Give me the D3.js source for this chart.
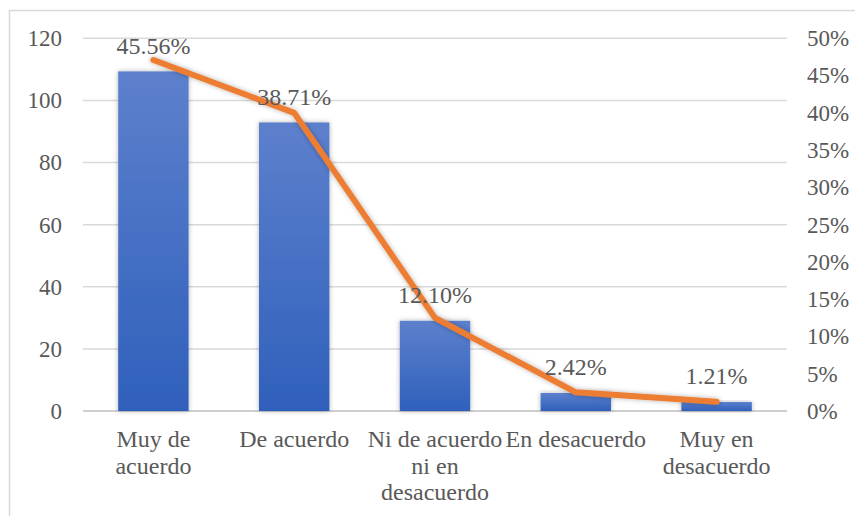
<!DOCTYPE html>
<html>
<head>
<meta charset="utf-8">
<script src="https://cdn.jsdelivr.net/npm/d3@7"></script>
<style>
  body { margin: 0; background: #fff; }
  svg text { font-family: "Liberation Serif", "DejaVu Serif", serif !important; fill: #595959; }
</style>
</head>
<body>
<div id="canvas"></div>
<script>
// data
let categories = [["Muy de", "acuerdo"], ["De acuerdo"], ["Ni de acuerdo", "ni en", "desacuerdo"], ["En desacuerdo"], ["Muy en", "desacuerdo"]]
let percents = [45.56, 38.71, 12.10, 2.42, 1.21]   // bars, right axis
let counts = [113, 96, 30, 6, 3]                   // line, left axis
let leftTicks = [0, 20, 40, 60, 80, 100, 120]
let rightTicks = [0, 5, 10, 15, 20, 25, 30, 35, 40, 45, 50]

let width = 855
let height = 516
let plot = { left: 83, right: 787, top: 38.3, bottom: 411 }
let serif = "'Liberation Serif', 'DejaVu Serif', serif"

let svg = d3.select("#canvas").append("svg")
    .attr("width", width)
    .attr("height", height)

// frame (only left and top edges visible)
svg.append("path")
    .attr("d", "M9.5," + height + "V10.5H" + width)
    .attr("fill", "none")
    .attr("stroke", "#d9d9d9")
    .attr("stroke-width", 1.5)

let defs = svg.append("defs")
let grad = defs.append("linearGradient")
    .attr("id", "barGrad")
    .attr("x1", 0).attr("y1", 0).attr("x2", 0).attr("y2", 1)
grad.append("stop").attr("offset", "0%").attr("stop-color", "#5d80cd")
grad.append("stop").attr("offset", "100%").attr("stop-color", "#2f60bb")

let shadow = defs.append("filter")
    .attr("id", "shadow")
    .attr("x", "-20%").attr("y", "-20%").attr("width", "140%").attr("height", "140%")
shadow.append("feDropShadow")
    .attr("dx", 0).attr("dy", 0)
    .attr("stdDeviation", 2.5)
    .attr("flood-color", "#000")
    .attr("flood-opacity", 0.3)

let x = d3.scaleBand()
    .domain(d3.range(categories.length))
    .range([plot.left, plot.right])
    .paddingInner(0.5)
    .paddingOuter(0.25)

let yLeft = d3.scaleLinear()
    .domain([0, 120])
    .range([plot.bottom, plot.top])

let yRight = d3.scaleLinear()
    .domain([0, 50])
    .range([plot.bottom, plot.top])

// gridlines
svg.append("g")
    .selectAll("line")
    .data(leftTicks)
    .enter().append("line")
    .attr("x1", plot.left)
    .attr("x2", plot.right)
    .attr("y1", d => yLeft(d))
    .attr("y2", d => yLeft(d))
    .attr("stroke", d => d === 0 ? "#cfcfcf" : "#d9d9d9")
    .attr("stroke-width", d => d === 0 ? 2 : 1.5)

// left axis
let leftAxis = svg.append("g")
    .attr("transform", "translate(" + (plot.left - 21) + ",0)")
    .attr("font-family", serif)
    .call(d3.axisLeft(yLeft).tickValues(leftTicks).tickSize(0).tickPadding(0))
leftAxis.attr("font-family", serif).attr("font-size", 23)
leftAxis.select(".domain").remove()
leftAxis.selectAll("text")
    .attr("fill", null)
    .attr("dy", "0.32em")

// right axis
let rightAxis = svg.append("g")
    .attr("transform", "translate(" + (plot.right + 20) + ",0)")
    .call(d3.axisRight(yRight).tickValues(rightTicks).tickSize(0).tickPadding(0)
        .tickFormat(d => d + "%"))
rightAxis.attr("font-family", serif).attr("font-size", 23)
rightAxis.select(".domain").remove()
rightAxis.selectAll("text")
    .attr("fill", null)
    .attr("dy", "0.32em")

// bars
svg.append("g")
    .selectAll("rect")
    .data(percents)
    .enter().append("rect")
    .attr("x", (d, i) => x(i))
    .attr("width", x.bandwidth())
    .attr("y", d => yRight(d))
    .attr("height", d => yRight(0) - yRight(d))
    .attr("fill", "url(#barGrad)")
    .attr("filter", "url(#shadow)")

// line
let line = d3.line()
    .x((d, i) => x(i) + x.bandwidth() / 2)
    .y(d => yLeft(d))

svg.append("path")
    .datum(counts)
    .attr("d", line)
    .attr("fill", "none")
    .attr("stroke", "#ed7d31")
    .attr("stroke-width", 6)
    .attr("stroke-linejoin", "round")
    .attr("stroke-linecap", "round")
    .attr("filter", "url(#shadow)")

// data labels above bars
svg.append("g")
    .selectAll("text")
    .data(percents)
    .enter().append("text")
    .attr("x", (d, i) => x(i) + x.bandwidth() / 2)
    .attr("y", d => yRight(d) - 17.5)
    .attr("text-anchor", "middle")
    .attr("font-family", serif)
    .attr("font-size", 24)
    .text(d => d.toFixed(2) + "%")

// category labels
let cats = svg.append("g")
    .selectAll("g")
    .data(categories)
    .enter().append("g")
    .attr("transform", (d, i) => "translate(" + (x(i) + x.bandwidth() / 2) + ",447)")

cats.selectAll("text")
    .data(d => d)
    .enter().append("text")
    .attr("x", 0)
    .attr("y", (d, j) => j * 26.5)
    .attr("text-anchor", "middle")
    .attr("font-family", serif)
    .attr("font-size", 24)
    .text(d => d)
</script>
</body>
</html>
